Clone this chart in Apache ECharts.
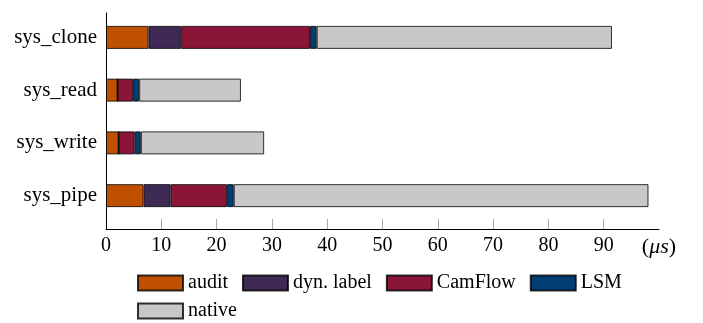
<!DOCTYPE html>
<html>
<head>
<meta charset="utf-8">
<script src="https://cdn.jsdelivr.net/npm/echarts@6/dist/echarts.min.js"></script>
<style>
  html, body { margin: 0; padding: 0; background: #fff; }
  #chart { width: 703px; height: 323px; }
</style>
</head>
<body>
<div id="chart"></div>
<script>
// System call latency breakdown (microseconds), stacked per call
const categories = ['sys_clone', 'sys_read', 'sys_write', 'sys_pipe'];
const audit    = [7.7, 2.1, 2.3, 6.8];
const dynLabel = [5.9, 0, 0, 4.9];
const camflow  = [23.3, 2.8, 2.9, 10.2];
const lsm      = [1.2, 1.1, 1.1, 1.2];
const native   = [53.4, 18.4, 22.3, 75.0];
const xTickValues = [0, 10, 20, 30, 40, 50, 60, 70, 80, 90];
const unitLabel = '(μs)';

const FONT = '"Liberation Serif", "Times New Roman", serif';
const FS = 20;

const seriesDefs = [
  { name: 'audit', values: audit, color: '#BF5000' },
  { name: 'dyn. label', values: dynLabel, color: '#3E2A55' },
  { name: 'CamFlow', values: camflow, color: '#8A1538' },
  { name: 'LSM', values: lsm, color: '#003E74' },
  { name: 'native', values: native, color: '#C8C8C8' }
];

const chart = echarts.init(document.getElementById('chart'), null, { renderer: 'canvas' });

const legendText = { fontFamily: FONT, fontSize: FS, color: '#000' };
const X_MIN = 0, X_MAX = 100;

chart.setOption({
  animation: false,
  grid: [
    // bar area: one band per system call
    { left: 106, right: 44, top: 11, bottom: 101, containLabel: false },
    // axis frame: left and bottom lines, ticks and value labels
    { left: 106, right: 44, top: 13, bottom: 94, containLabel: false }
  ],
  xAxis: [
    {
      gridIndex: 0,
      type: 'value',
      min: X_MIN,
      max: X_MAX,
      show: false
    },
    {
      gridIndex: 1,
      type: 'value',
      min: X_MIN,
      max: X_MAX,
      interval: 10,
      splitLine: { show: false },
      axisLine: { show: true, lineStyle: { color: '#000', width: 1 } },
      axisTick: {
        show: true,
        inside: true,
        length: 10,
        customValues: xTickValues.slice(1),
        lineStyle: { color: '#aaa', width: 1 }
      },
      axisLabel: {
        customValues: xTickValues.concat([X_MAX]),
        showMaxLabel: true,
        margin: 7,
        fontFamily: FONT,
        fontSize: FS,
        color: '#000',
        formatter: function (v) {
          if (v === X_MAX) return '{p|(}{m|' + unitLabel.slice(1, -1) + '}{p|)}';
          return String(v);
        },
        rich: {
          p: { fontFamily: FONT, fontSize: 22, color: '#000' },
          m: { fontFamily: FONT, fontSize: 22, fontStyle: 'italic', color: '#000' }
        }
      }
    }
  ],
  yAxis: [
    {
      gridIndex: 0,
      type: 'category',
      inverse: true,
      data: categories,
      axisLine: { show: false },
      axisTick: { show: false },
      splitLine: { show: false },
      axisLabel: {
        margin: 9,
        fontFamily: FONT,
        fontSize: 21,
        color: '#000'
      }
    },
    {
      gridIndex: 1,
      type: 'value',
      splitLine: { show: false },
      axisLine: { show: true, lineStyle: { color: '#000', width: 1 } },
      axisTick: { show: false },
      axisLabel: { show: false }
    }
  ],
  legend: [
    {
      data: ['audit', 'dyn. label', 'CamFlow', 'LSM'],
      left: 137,
      top: 273,
      padding: 0,
      itemWidth: 45,
      itemHeight: 15,
      itemGap: 14,
      icon: 'rect',
      textStyle: legendText
    },
    {
      data: ['native'],
      left: 137,
      top: 301,
      padding: 0,
      itemWidth: 45,
      itemHeight: 15,
      icon: 'rect',
      textStyle: legendText
    }
  ],
  series: seriesDefs.map(function (s) {
    return {
      name: s.name,
      type: 'bar',
      stack: 'total',
      xAxisIndex: 0,
      yAxisIndex: 0,
      barWidth: 23,
      itemStyle: {
        color: s.color,
        borderColor: 'rgba(0,0,0,0.8)',
        borderWidth: 1
      },
      data: s.values
    };
  })
});
</script>
</body>
</html>
